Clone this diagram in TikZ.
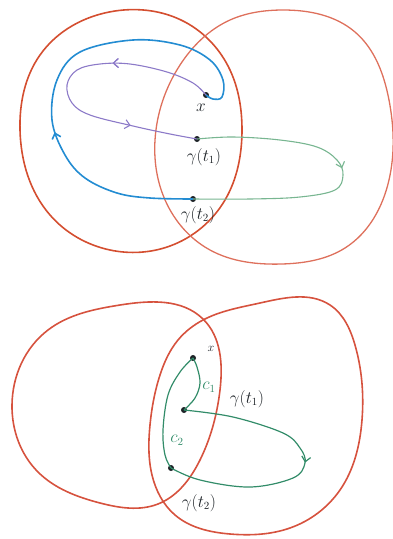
\documentclass[tikz,border=0pt]{standalone}
\usetikzlibrary{arrows.meta,decorations.markings,hobby}
\definecolor{redA}{RGB}{212,78,48}
\definecolor{redB}{RGB}{222,112,92}
\definecolor{redC}{RGB}{214,82,62}
\definecolor{blueC}{RGB}{35,140,210}
\definecolor{purpleC}{RGB}{140,122,200}
\definecolor{greenA}{RGB}{120,182,145}
\definecolor{greenB}{RGB}{50,140,105}
\definecolor{inkC}{RGB}{30,35,40}
\tikzset{
  x=1pt,y=-1pt,
  region/.style={line width=1.6pt},
  dotnode/.style={circle,fill=inkC,inner sep=0pt,minimum size=6pt},
  lbl/.style={text=inkC,font=\fontsize{16}{16}\selectfont,inner sep=1pt},
  glbl/.style={text=greenB,font=\fontsize{16}{16}\selectfont,inner sep=1pt},
  midarrow/.style={postaction={decorate},decoration={markings,
     mark=at position #1 with {\arrow{Straight Barb[length=5pt,width=9pt]}}}},
}
\begin{document}
\begin{tikzpicture}
\useasboundingbox (0,0) rectangle (393,539);
% ---------- top diagram ----------
\draw[region,redA] plot[closed hobby] coordinates {(115,11) (185,22) (230,70) (242,130) (225,200) (170,246) (110,250) (50,215) (20,130) (40,55)};
\draw[region,redB,line width=1.3pt] plot[closed hobby] coordinates {(283,10) (355,32) (389,100) (389,180) (345,248) (282,264) (210,250) (163,195) (155,140) (180,65) (230,20)};
\node[dotnode] (x1) at (206,95) {};
\node[dotnode] (g11) at (197,139) {};
\node[dotnode] (g12) at (193,199) {};
\node[lbl] (lx1) at (201,108) {$x$};
\node[lbl] (lg11) at (204,157) {$\gamma(t_1)$};
\node[lbl] (lg12) at (198,215) {$\gamma(t_2)$};
\draw[blueC,line width=1.6pt,midarrow=0.37] plot[smooth,tension=0.6] coordinates {(193,199) (150,198) (117,193) (85,178) (65,155) (52,120) (57,80) (80,52) (133,40) (180,45) (210,60) (223,80) (222,97) (213,99) (206,95)};
\draw[purpleC,line width=1.1pt,midarrow=0.33,postaction={decorate,decoration={markings,mark=at position 0.78 with {\arrow{Straight Barb[length=5pt,width=9pt]}}}}] plot[smooth,tension=0.6] coordinates {(206,95) (193,83) (167,72) (130,64) (100,64) (77,70) (67,85) (72,103) (90,115) (133,126) (170,134) (197,139)};
\draw[greenA,line width=1.1pt,midarrow=0.48] plot[smooth,tension=0.6] coordinates {(197,139) (233,137) (280,140) (317,147) (337,160) (343,175) (335,190) (300,197) (250,199) (193,199)};
% ---------- bottom diagram ----------
\draw[region,redC] plot[closed hobby] coordinates {(203,319) (120,305) (48,330) (12,405) (38,472) (100,503) (158,504) (200,460) (220,390)};
\draw[region,redC] plot[closed hobby] coordinates {(203,320) (260,303) (330,305) (355,345) (362,420) (340,490) (290,528) (230,534) (175,515) (152,475) (150,425) (160,375) (178,340)};
\node[dotnode] (x2) at (193,358) {};
\node[dotnode] (g21) at (184,410) {};
\node[dotnode] (g22) at (171,468) {};
\node[lbl,font=\fontsize{13}{13}\selectfont] (lx2) at (211,349) {$x$};
\node[glbl] (lc1) at (209,387) {$c_1$};
\node[lbl] (lg21) at (247,399) {$\gamma(t_1)$};
\node[glbl] (lc2) at (177,440) {$c_2$};
\node[lbl] (lg22) at (199,503) {$\gamma(t_2)$};
\draw[greenB,line width=1.2pt] plot[smooth,tension=0.6] coordinates {(184,410) (195,398) (200,383) (197,367) (193,358)};
\draw[greenB,line width=1.2pt] plot[smooth,tension=0.6] coordinates {(193,358) (180,372) (168,395) (163,430) (165,455) (171,468)};
\draw[greenB,line width=1.2pt,midarrow=0.49] plot[smooth,tension=0.6] coordinates {(184,410) (233,417) (283,433) (300,448) (305,463) (293,478) (250,487) (200,480) (171,468)};
\end{tikzpicture}
\end{document}
